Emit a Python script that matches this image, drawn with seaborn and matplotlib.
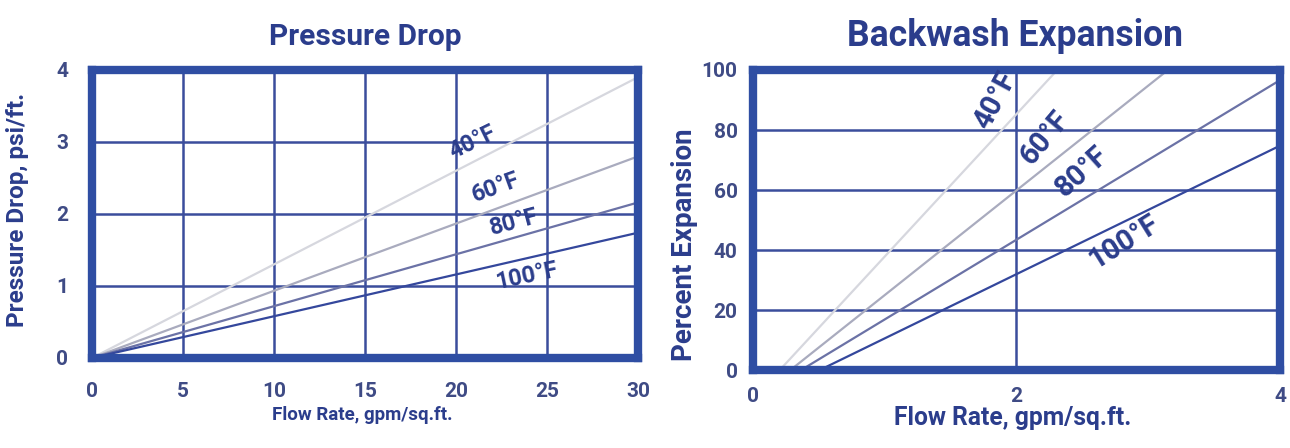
import numpy as np
import pandas as pd
import seaborn as sns
import matplotlib.pyplot as plt

sns.set_theme(style="white")
plt.rcParams['font.family'] = ['Roboto', 'DejaVu Sans']
plt.rcParams['font.weight'] = 'bold'

# ---------------- data ----------------
temps = ["40°F", "60°F", "80°F", "100°F"]
# Pressure drop (psi/ft) vs flow rate (gpm/sq.ft.)
pd_flow_start = [0, 0, 0, 0]
pd_flow_end = [30, 30, 30, 30]
pd_drop_start = [0, 0, 0, 0]
pd_drop_end = [3.9, 2.8, 2.16, 1.74]
# Backwash expansion (%) vs flow rate
bw_flow_start = [0.2, 0.28, 0.36, 0.5]
bw_flow_end = [2.31, 3.15, 4.0, 4.0]
bw_exp_start = [0, 0, 0, 0]
bw_exp_end = [100, 100, 96.6, 74.8]

pd_xticks = [0, 5, 10, 15, 20, 25, 30]
pd_yticks = [0, 1, 2, 3, 4]
bw_xticks = [0, 2, 4]
bw_yticks = [0, 20, 40, 60, 80, 100]

# label placement (data coords) and rotation
pd_lab_x = [20.9, 22.2, 23.2, 23.9]
pd_lab_y = [3.0, 2.37, 1.89, 1.14]
pd_lab_rot = [26, 20, 15, 12]
bw_lab_x = [1.84, 2.22, 2.5, 2.82]
bw_lab_y = [90, 77.5, 66, 43]
bw_lab_rot = [62, 50, 42, 32]

line_colors = ["#d6d7de", "#a9abbe", "#6b72a6", "#34479c"]
frame_col = "#2f4ea3"
grid_col = "#3b4d9c"
text_col = "#2b3d8c"
tick_col = "#3f4b85"

df_pd = pd.DataFrame({
    "flow": pd_flow_start + pd_flow_end,
    "value": pd_drop_start + pd_drop_end,
    "temp": temps + temps,
})
df_bw = pd.DataFrame({
    "flow": bw_flow_start + bw_flow_end,
    "value": bw_exp_start + bw_exp_end,
    "temp": temps + temps,
})
palette = dict(zip(temps, line_colors))

fig = plt.figure(figsize=(12.9, 4.48), dpi=100)
fig.patch.set_facecolor("white")
ax1 = fig.add_axes([0.0713, 0.2009, 0.4233, 0.6429])
ax2 = fig.add_axes([0.5837, 0.1730, 0.4085, 0.6708])

sns.lineplot(data=df_pd, x="flow", y="value", hue="temp", palette=palette,
             ax=ax1, linewidth=1.6, legend=False, sort=False)
sns.lineplot(data=df_bw, x="flow", y="value", hue="temp", palette=palette,
             ax=ax2, linewidth=1.6, legend=False, sort=False)

ax1.set_xlim(0, 30)
ax1.set_ylim(0, 4)
ax2.set_xlim(0, 4)
ax2.set_ylim(0, 100)

for ax, xt, yt in [(ax1, pd_xticks, pd_yticks), (ax2, bw_xticks, bw_yticks)]:
    ax.set_xticks(xt)
    ax.set_yticks(yt)
    ax.set_xticklabels([str(v) for v in xt])
    ax.set_yticklabels([str(v) for v in yt])
    ax.grid(True, color=grid_col, linewidth=1.8)
    ax.set_axisbelow(True)
    for s in ax.spines.values():
        s.set_visible(True)
        s.set_color(frame_col)
        s.set_linewidth(6)
    ax.set_facecolor("white")

ax1.tick_params(axis="both", length=0, labelsize=15, labelcolor=tick_col)
ax1.tick_params(axis="y", pad=17)
ax1.tick_params(axis="x", pad=17)
ax2.tick_params(axis="both", length=0, labelsize=15, labelcolor=tick_col)
ax2.tick_params(axis="y", pad=11)
ax2.tick_params(axis="x", pad=12)

ax1.set_xlabel("Flow Rate, gpm/sq.ft.", fontsize=13.5, color=text_col, fontweight="bold")
ax1.set_ylabel("Pressure Drop, psi/ft.", fontsize=17.5, color=text_col, fontweight="bold")
ax1.xaxis.set_label_coords(0.495, -0.165)
ax1.yaxis.set_label_coords(-0.115, 0.514)
ax2.set_xlabel("Flow Rate, gpm/sq.ft.", fontsize=17.7, color=text_col, fontweight="bold")
ax2.set_ylabel("Percent Expansion", fontsize=20, color=text_col, fontweight="bold")
ax2.xaxis.set_label_coords(0.493, -0.118)
ax2.yaxis.set_label_coords(-0.104, 0.418)

fig.text(365 / 1290, 1 - 45 / 448, "Pressure Drop", ha="center", va="baseline",
         fontsize=21.5, color=text_col, fontweight="bold")
fig.text(1015 / 1290, 1 - 46 / 448, "Backwash Expansion", ha="center", va="baseline",
         fontsize=25.6, color=text_col, fontweight="bold")

for t, x, y, r in zip(temps, pd_lab_x, pd_lab_y, pd_lab_rot):
    ax1.text(x, y, t, rotation=r, ha="center", va="center", fontsize=17,
             color=text_col, fontweight="bold", rotation_mode="anchor")
for t, x, y, r in zip(temps, bw_lab_x, bw_lab_y, bw_lab_rot):
    ax2.text(x, y, t, rotation=r, ha="center", va="center", fontsize=21,
             color=text_col, fontweight="bold", rotation_mode="anchor")

fig.savefig("out.png", dpi=100, facecolor="white")
